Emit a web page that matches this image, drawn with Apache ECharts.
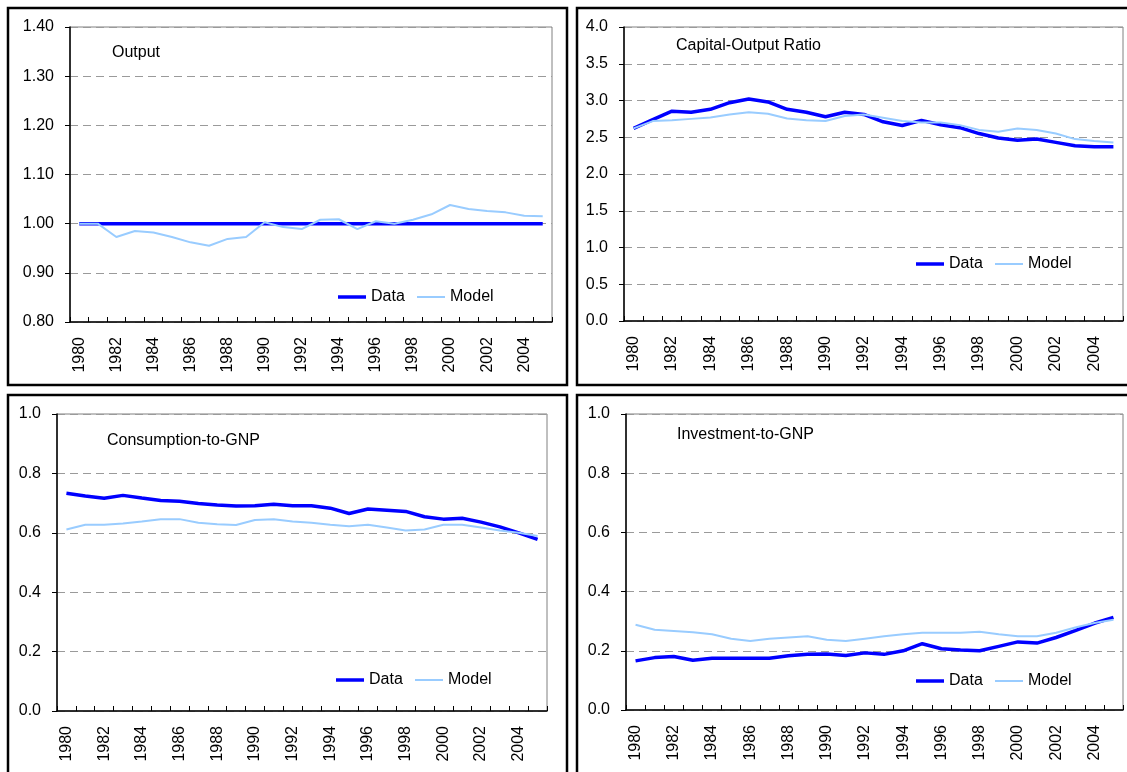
<!DOCTYPE html>
<html>
<head>
<meta charset="utf-8">
<script src="https://cdn.jsdelivr.net/npm/echarts@6/dist/echarts.min.js"></script>
<style>
  html, body { margin: 0; padding: 0; background: #fff; }
  #chart { width: 1127px; height: 772px; }
</style>
</head>
<body>
<div id="chart"></div>
<script>
// Years on the horizontal axis of every panel
const years = ['1980','1981','1982','1983','1984','1985','1986','1987','1988','1989',
  '1990','1991','1992','1993','1994','1995','1996','1997','1998','1999',
  '2000','2001','2002','2003','2004','2005'];

// Output (detrended, normalised)
const outputData  = [1.00,1.00,1.00,1.00,1.00,1.00,1.00,1.00,1.00,1.00,1.00,1.00,1.00,
  1.00,1.00,1.00,1.00,1.00,1.00,1.00,1.00,1.00,1.00,1.00,1.00,1.00];
const outputModel = [1.000,1.000,0.973,0.985,0.982,0.973,0.962,0.955,0.969,0.973,1.003,0.993,0.989,
  1.008,1.009,0.989,1.005,1.000,1.008,1.019,1.038,1.030,1.026,1.023,1.016,1.015];

// Capital-output ratio
const kyData  = [2.62,2.74,2.855,2.84,2.88,2.97,3.02,2.98,2.88,2.84,2.78,2.84,2.81,
  2.71,2.66,2.73,2.67,2.63,2.55,2.49,2.46,2.475,2.43,2.385,2.37,2.37];
const kyModel = [2.62,2.72,2.73,2.75,2.77,2.81,2.84,2.82,2.755,2.73,2.72,2.79,2.81,
  2.765,2.72,2.70,2.70,2.665,2.60,2.575,2.62,2.60,2.55,2.475,2.45,2.43];

// Consumption-to-GNP
const cyData  = [0.733,0.724,0.716,0.726,0.717,0.709,0.706,0.699,0.694,0.690,0.691,0.696,0.691,
  0.691,0.683,0.665,0.680,0.676,0.672,0.654,0.646,0.649,0.636,0.620,0.600,0.578];
const cyModel = [0.611,0.627,0.627,0.631,0.638,0.646,0.646,0.634,0.629,0.626,0.643,0.646,0.638,
  0.634,0.627,0.622,0.627,0.618,0.608,0.611,0.627,0.627,0.618,0.608,0.600,0.589];

// Investment-to-GNP
const iyData  = [0.166,0.177,0.181,0.168,0.175,0.175,0.175,0.175,0.183,0.188,0.189,0.184,0.193,
  0.188,0.200,0.224,0.207,0.203,0.200,0.215,0.230,0.226,0.245,0.268,0.293,0.313];
const iyModel = [0.288,0.271,0.267,0.263,0.256,0.241,0.233,0.241,0.245,0.249,0.237,0.233,0.241,
  0.249,0.256,0.261,0.261,0.261,0.264,0.256,0.249,0.249,0.261,0.279,0.294,0.305];

// Panel titles and value-axis ranges [min, max, interval, decimals]
const panelTitles = ['Output', 'Capital-Output Ratio', 'Consumption-to-GNP', 'Investment-to-GNP'];
const yRanges = [[0.8, 1.4, 0.1, 2], [0, 4, 0.5, 1], [0, 1, 0.2, 1], [0, 1, 0.2, 1]];
const seriesNames = ['Data', 'Model'];

const FONT = '"Liberation Sans", Arial, sans-serif';
const FONT_SIZE = 16;
const DATA_COLOR = '#0000FF';
const MODEL_COLOR = '#99CCFF';
const DATA_WIDTH = 3.5;
const MODEL_WIDTH = 2;

// Layout of the four panels: plot area, title corner, legend row (x of first key, y of key line), frame
const layout = [
  { grid: { left: 70,  top: 27,  width: 482, height: 295 }, title: [112, 45],  legend: [338, 297], frame: [8, 8, 559, 377] },
  { grid: { left: 624, top: 27,  width: 499, height: 294 }, title: [676, 38],  legend: [916, 264], frame: [577, 8, 560, 377] },
  { grid: { left: 57,  top: 414, width: 490, height: 297 }, title: [107, 433], legend: [336, 680], frame: [8, 395, 559, 400] },
  { grid: { left: 626, top: 414, width: 497, height: 296 }, title: [677, 427], legend: [916, 681], frame: [577, 395, 560, 400] }
];
const panelSeries = [
  [outputData, outputModel],
  [kyData, kyModel],
  [cyData, cyModel],
  [iyData, iyModel]
];

const chart = echarts.init(document.getElementById('chart'), null, { renderer: 'canvas' });

const legendText = { fontFamily: FONT, fontSize: FONT_SIZE, color: '#000' };

// One legend key per series so each key keeps its own line thickness
const legends = [];
layout.forEach(l => {
  const x0 = l.legend[0], y0 = l.legend[1];
  legends.push({
    data: [{ name: seriesNames[0], icon: 'rect' }], left: x0, top: y0 - 8, padding: 0,
    itemWidth: 28, itemHeight: DATA_WIDTH, selectedMode: false, textStyle: legendText
  });
  legends.push({
    data: [{ name: seriesNames[1], icon: 'rect' }], left: x0 + 79, top: y0 - 8, padding: 0,
    itemWidth: 28, itemHeight: MODEL_WIDTH, selectedMode: false, textStyle: legendText
  });
});

const option = {
  animation: false,
  backgroundColor: '#fff',
  textStyle: { fontFamily: FONT },
  grid: layout.map(l => Object.assign({
    show: true, borderColor: '#808080', borderWidth: 1, backgroundColor: 'transparent'
  }, l.grid)),
  title: layout.map((l, i) => ({
    text: panelTitles[i], left: l.title[0], top: l.title[1], padding: 0,
    textStyle: { fontFamily: FONT, fontSize: FONT_SIZE, fontWeight: 'normal', color: '#000' }
  })),
  legend: legends,
  xAxis: layout.map((l, i) => ({
    type: 'category', gridIndex: i, data: years, boundaryGap: true,
    axisLine: { show: true, lineStyle: { color: '#000', width: 1.5 } },
    axisTick: { show: true, inside: true, length: 5, interval: 0, alignWithLabel: false,
      lineStyle: { color: '#000', width: 1 } },
    axisLabel: { interval: 1, rotate: 90, margin: 15, fontFamily: FONT, fontSize: FONT_SIZE, color: '#000' },
    splitLine: { show: false }
  })),
  yAxis: layout.map((l, i) => ({
    type: 'value', gridIndex: i,
    min: yRanges[i][0], max: yRanges[i][1], interval: yRanges[i][2],
    axisLine: { show: true, lineStyle: { color: '#000', width: 1.5 } },
    axisTick: { show: true, inside: false, length: 5, lineStyle: { color: '#000', width: 1 } },
    axisLabel: { margin: 16, fontFamily: FONT, fontSize: FONT_SIZE, color: '#000',
      formatter: v => v.toFixed(yRanges[i][3]) },
    splitLine: { show: true, lineStyle: { color: '#9a9a9a', width: 1, type: [8, 5] } }
  })),
  series: panelSeries.flatMap((pair, i) => [
    { name: seriesNames[0], type: 'line', xAxisIndex: i, yAxisIndex: i, data: pair[0],
      symbol: 'none', lineStyle: { color: DATA_COLOR, width: DATA_WIDTH }, itemStyle: { color: DATA_COLOR } },
    { name: seriesNames[1], type: 'line', xAxisIndex: i, yAxisIndex: i, data: pair[1],
      symbol: 'none', lineStyle: { color: MODEL_COLOR, width: MODEL_WIDTH }, itemStyle: { color: MODEL_COLOR } }
  ]),
  graphic: layout.map(l => ({
    type: 'rect', silent: true, z: 100,
    shape: { x: l.frame[0], y: l.frame[1], width: l.frame[2], height: l.frame[3] },
    style: { fill: 'none', stroke: '#000', lineWidth: 2.5 }
  }))
};

chart.setOption(option);
</script>
</body>
</html>
